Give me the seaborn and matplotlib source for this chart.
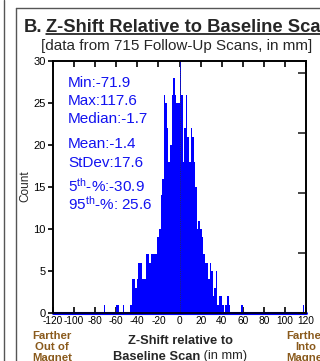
import numpy as np
import pandas as pd
import matplotlib
matplotlib.use("Agg")
import matplotlib.pyplot as plt
import seaborn as sns
from matplotlib.lines import Line2D

# ---------------- data ----------------
n_scans = 715
bin_width = 1.5
core_start = -48.0
core_counts = [0, 1, 4, 4, 3, 4, 6, 6, 4, 4, 4, 7, 7, 6, 7, 7, 7, 7,
               9, 10, 14, 16,
               26, 25, 22, 18, 20, 26, 28, 26, 25, 25,
               30, 26, 18, 22, 26, 21, 18, 22, 21, 18,
               15, 10, 11, 10, 9, 7, 6, 6, 4, 6, 5, 2, 3, 5, 1, 2, 2, 1, 0, 1, 2, 1]
outlier_values = [-71.9, -59.4, -57.6, -53.4, 59.4, 117.6]

x_ticks = [-120, -100, -80, -60, -40, -20, 0, 20, 40, 60, 80, 100, 120]
y_ticks = [0, 5, 10, 15, 20, 25, 30]
pct_ticks = [0, 1, 2, 3, 4]

stat_lines = [("Min:-71.9", 87), ("Max:117.6", 105), ("Median:-1.7", 123.5),
              ("Mean:-1.4", 148), ("StDev:17.6", 167),
              ("5$^{\\mathrm{th}}$-%:-30.9", 192), ("95$^{\\mathrm{th}}$-%: 25.6", 210)]

# ---------------- style ----------------
sns.set_style("white")
plt.rcParams["font.family"] = ["Liberation Sans", "DejaVu Sans"]
plt.rcParams["axes.unicode_minus"] = False
plt.rcParams["mathtext.fontset"] = "custom"
plt.rcParams["mathtext.rm"] = "Liberation Sans"
plt.rcParams["mathtext.it"] = "Liberation Sans:italic"
plt.rcParams["mathtext.bf"] = "Liberation Sans:bold"

W, H = 320, 361
fig = plt.figure(figsize=(W / 100, H / 100), dpi=100)
fig.patch.set_facecolor("white")


def P(x, y):
    return x / W, 1 - y / H


ax = fig.add_axes([53 / W, (H - 313) / H, 253 / W, 252 / H])

centers = core_start + bin_width * (np.arange(len(core_counts)) + 0.5)
df = pd.DataFrame({
    "z": np.concatenate([centers, outlier_values]),
    "n": np.concatenate([np.asarray(core_counts, float), np.ones(len(outlier_values))]),
})
sns.histplot(data=df, x="z", weights="n", binwidth=bin_width, binrange=(-120, 120),
             color="#0000FF", alpha=1, linewidth=0, ax=ax)
ax.axhline(0, color="#0000FF", lw=2.2, clip_on=False, zorder=3)
ax.axvline(0, color="#333333", lw=0.6, ls=(0, (1, 1.5)), zorder=4)

ax.set_xlim(-120, 120)
ax.set_ylim(0, 30)
ax.set_xticks(x_ticks)
ax.set_xticklabels([str(t) for t in x_ticks])
ax.set_yticks(y_ticks)
ax.set_yticklabels([str(t) for t in y_ticks])
ax.set_xlabel("")
ax.set_ylabel("")
for s in ax.spines.values():
    s.set_visible(True)
    s.set_linewidth(1.2)
    s.set_color("black")
ax.tick_params(axis="x", direction="in", top=True, bottom=True, length=4,
               width=1.2, labelsize=7.3, pad=2.5, colors="black")
ax.tick_params(axis="y", direction="out", left=True, right=False, length=3.5,
               width=1.2, labelsize=8, pad=1.8, colors="black")

ax2 = ax.twinx()
ax2.set_ylim(0, 30 / n_scans * 100)
ax2.set_yticks(pct_ticks)
ax2.tick_params(axis="y", direction="in", length=6, width=1.2,
                labelright=False, right=True)
for s in ax2.spines.values():
    s.set_linewidth(1.2)
    s.set_color("black")

# ---------------- frame lines ----------------
fig.add_artist(Line2D([3.5 / W, 3.5 / W], [0, 1], color="#555555", lw=1.0))
fig.add_artist(Line2D([15.5 / W, 15.5 / W], [0, 1 - 8 / H], color="#555555", lw=1.0))
fig.add_artist(Line2D([15.5 / W, 1], [1 - 8 / H, 1 - 8 / H], color="#555555", lw=1.0))

# ---------------- titles ----------------
fig.text(*P(24, 32), "B.", fontsize=13.2, weight="bold", va="baseline")
fig.text(*P(46, 32), "Z-Shift Relative to Baseline Scan", fontsize=13.2,
         weight="bold", va="baseline")
fig.add_artist(Line2D([46 / W, 1], [1 - 34 / H, 1 - 34 / H], color="black", lw=1.1))
fig.text(*P(41, 50), "[data from 715 Follow-Up Scans, in mm]", fontsize=11,
         va="baseline")

# ---------------- stats ----------------
for s, yb in stat_lines:
    fig.text(*P(68, yb), s, color="#1212F0", fontsize=11, va="baseline")

# ---------------- axis labels ----------------
fig.text(*P(25, 186), "Count", rotation=90, ha="center", va="center", fontsize=8.5)

brown = "#8A5A1C"
for txt, yb in [("Farther", 339), ("Out of", 350), ("Magnet", 361)]:
    fig.text(*P(52, yb), txt, color=brown, fontsize=8.2, weight="bold",
             ha="center", va="baseline")
for txt, yb in [("Farther", 339), ("Into", 350), ("Magnet", 361)]:
    fig.text(*P(306, yb), txt, color=brown, fontsize=8.2, weight="bold",
             ha="center", va="baseline")

fig.text(*P(180, 344), "Z-Shift relative to", fontsize=9.3, weight="bold",
         ha="center", va="baseline")
r = fig.canvas.get_renderer()
t1 = fig.text(0, 1 - 359.5 / H, "Baseline Scan", fontsize=9.3, weight="bold",
              va="baseline")
t2 = fig.text(0, 1 - 359.5 / H, " (in mm)", fontsize=9.3, va="baseline")
w1 = t1.get_window_extent(r).width
w2 = t2.get_window_extent(r).width
x0 = 180 - (w1 + w2) / 2
t1.set_x(x0 / W)
t2.set_x((x0 + w1) / W)

fig.savefig("out.png", dpi=100, facecolor="white")
